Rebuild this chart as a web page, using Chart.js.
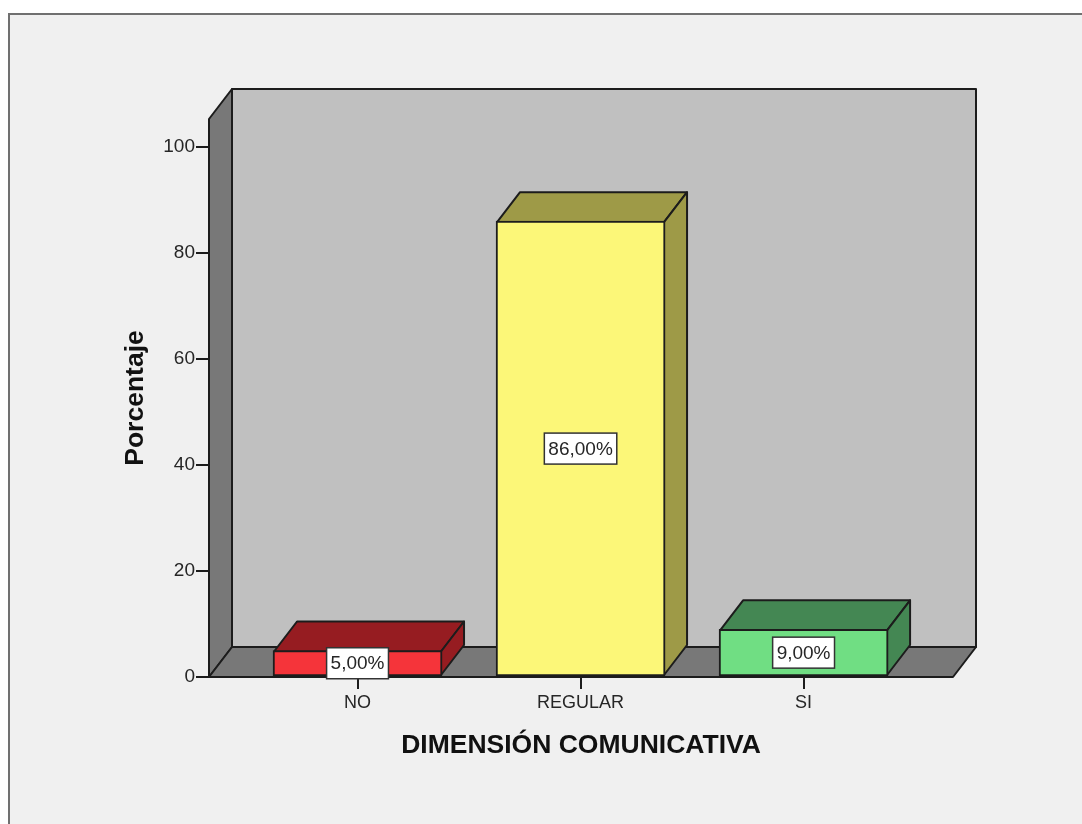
<!DOCTYPE html>
<html>
<head>
<meta charset="utf-8">
<title>Dimensión comunicativa</title>
<script src="https://cdn.jsdelivr.net/npm/chart.js@4"></script>
<style>
  html, body { margin: 0; padding: 0; background: #fff; overflow: hidden; }
  #frame { position: absolute; left: 8px; top: 13px; width: 1100px; height: 850px;
           background: #f0f0f0; border: 2px solid #707070; box-sizing: border-box; }
  #chart { position: absolute; left: 0; top: 0; }
</style>
</head>
<body>
<div id="frame"></div>
<canvas id="chart" width="1082" height="824"></canvas>
<script>
// values
var categories = ['NO', 'REGULAR', 'SI'];
var percentages = [5, 86, 9];
var pointLabels = ['5,00%', '86,00%', '9,00%'];
var frontColors = ['#f5343a', '#fcf778', '#70de83'];
var shadeColors = ['#961c21', '#9e9a47', '#448753'];

var DEPTH_X = 23, DEPTH_Y = -30;
var LINE = '#1c1c1c';
var TEXT = '#262626';

function poly(ctx, pts, fill) {
    ctx.beginPath();
    ctx.moveTo(pts[0][0], pts[0][1]);
    for (var i = 1; i < pts.length; i++) ctx.lineTo(pts[i][0], pts[i][1]);
    ctx.closePath();
    ctx.fillStyle = fill;
    ctx.fill();
    ctx.stroke();
}

// room walls + the depth faces of the bars, all taken from the chart's scales
var depthPlugin = {
    id: 'depth',
    beforeDatasetsDraw: function(chart) {
        var ctx = chart.ctx, a = chart.chartArea;
        var dx = DEPTH_X, dy = DEPTH_Y;
        ctx.save();
        ctx.strokeStyle = LINE;
        ctx.lineWidth = 2;
        ctx.lineJoin = 'round';
        poly(ctx, [[a.left + dx, a.top + dy], [a.right + dx, a.top + dy], [a.right + dx, a.bottom + dy], [a.left + dx, a.bottom + dy]], '#c0c0c0');
        poly(ctx, [[a.left, a.top], [a.left + dx, a.top + dy], [a.left + dx, a.bottom + dy], [a.left, a.bottom]], '#787878');
        poly(ctx, [[a.left, a.bottom], [a.left + dx, a.bottom + dy], [a.right + dx, a.bottom + dy], [a.right, a.bottom]], '#787878');
        chart.getDatasetMeta(0).data.forEach(function(bar, i) {
            var l = bar.x - bar.width / 2 + 1, r = bar.x + bar.width / 2 - 1;
            var t = bar.y + 1, b = bar.base - 1;
            poly(ctx, [[l, t], [l + dx, t + dy], [r + dx, t + dy], [r, t]], shadeColors[i]);
            poly(ctx, [[r, t], [r + dx, t + dy], [r + dx, b + dy], [r, b]], shadeColors[i]);
        });
        ctx.restore();
    },
    afterDatasetsDraw: function(chart) {
        var ctx = chart.ctx;
        ctx.save();
        ctx.font = '19px "Liberation Sans"';
        ctx.textAlign = 'center';
        ctx.textBaseline = 'middle';
        chart.getDatasetMeta(0).data.forEach(function(bar, i) {
            var w = ctx.measureText(pointLabels[i]).width + 8, h = 31;
            var cy = (bar.y + bar.base) / 2;
            ctx.fillStyle = '#fff';
            ctx.strokeStyle = '#333';
            ctx.lineWidth = 1.5;
            ctx.fillRect(bar.x - w / 2, cy - h / 2, w, h);
            ctx.strokeRect(bar.x - w / 2, cy - h / 2, w, h);
            ctx.fillStyle = TEXT;
            ctx.fillText(pointLabels[i], bar.x, cy + 1);
        });
        ctx.restore();
    }
};

new Chart(document.getElementById('chart'), {
    type: 'bar',
    data: {
        datasets: [{
            data: categories.map(function(c, i) { return { x: i, y: percentages[i] }; }),
            backgroundColor: frontColors,
            borderColor: LINE,
            borderWidth: 2,
            borderSkipped: false,
            barThickness: 169
        }]
    },
    options: {
        responsive: false,
        animation: false,
        layout: { padding: { left: 120, right: 129, top: 119, bottom: 62 } },
        plugins: { legend: { display: false }, tooltip: { enabled: false } },
        scales: {
            x: {
                type: 'linear',
                offset: false,
                min: -0.666,
                max: 2.67,
                afterBuildTicks: function(scale) {
                    scale.ticks = categories.map(function(c, i) { return { value: i }; });
                },
                afterFit: function(scale) { scale.height = 85; },
                border: { display: false },
                grid: { offset: false, drawOnChartArea: false, color: LINE, lineWidth: 2, tickLength: 12 },
                ticks: {
                    autoSkip: false,
                    maxRotation: 0,
                    padding: 3,
                    color: TEXT,
                    font: { family: 'Liberation Sans', size: 18 },
                    callback: function(v) { return categories[v]; }
                },
                title: {
                    display: true,
                    text: 'DIMENSIÓN COMUNICATIVA',
                    color: '#111',
                    padding: 0,
                    font: { family: 'Liberation Sans', size: 26.5, weight: 'bold' }
                }
            },
            y: {
                min: 0,
                max: 105.28,
                afterFit: function(scale) { scale.width = 89; },
                border: { display: false },
                grid: { drawOnChartArea: false, color: LINE, lineWidth: 2, tickLength: 13 },
                ticks: {
                    stepSize: 20,
                    includeBounds: false,
                    padding: 1,
                    color: TEXT,
                    font: { family: 'Liberation Sans', size: 19 }
                },
                title: {
                    display: true,
                    text: 'Porcentaje',
                    color: '#111',
                    padding: 0,
                    font: { family: 'Liberation Sans', size: 26.5, weight: 'bold' }
                }
            }
        }
    },
    plugins: [depthPlugin]
});
</script>
</body>
</html>
